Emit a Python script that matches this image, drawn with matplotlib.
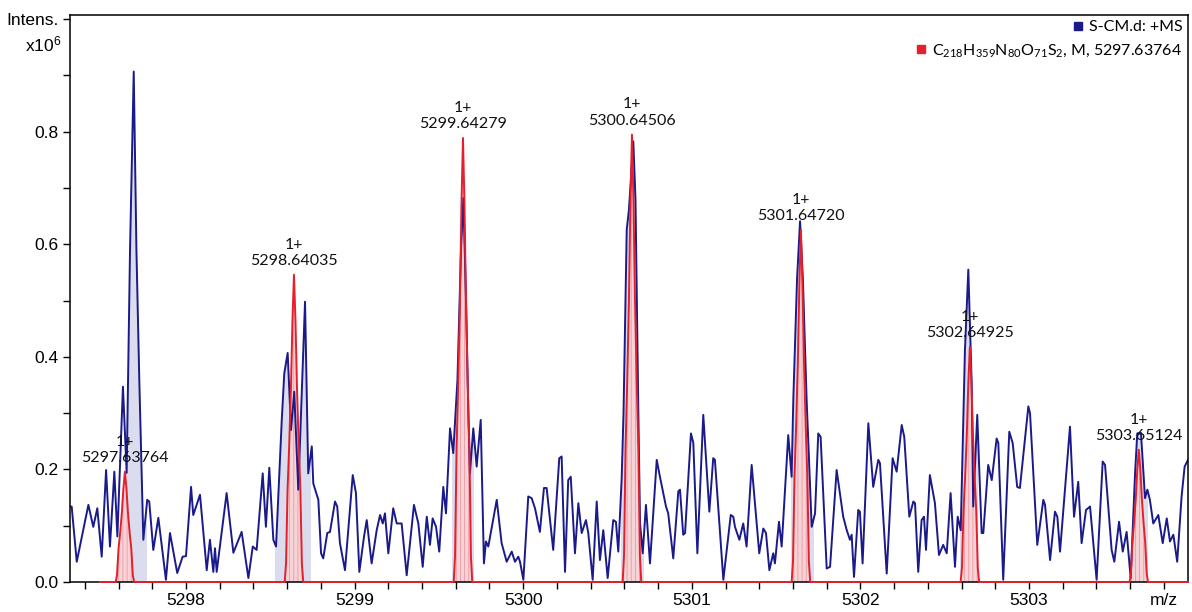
import numpy as np
import matplotlib
matplotlib.use('Agg')
import matplotlib.pyplot as plt
from matplotlib.lines import Line2D
from matplotlib.patches import Rectangle
from matplotlib.ticker import MultipleLocator

mz = [5297.310, 5297.322, 5297.352, 5297.421, 5297.450, 5297.474, 5297.500, 5297.526, 5297.549,
      5297.575, 5297.593, 5297.626, 5297.648, 5297.668, 5297.690, 5297.706, 5297.723, 5297.747,
      5297.770, 5297.782, 5297.806, 5297.836, 5297.881, 5297.905, 5297.948, 5297.980, 5298.000,
      5298.030, 5298.043, 5298.083, 5298.123, 5298.142, 5298.162, 5298.172, 5298.182, 5298.241,
      5298.281, 5298.330, 5298.370, 5298.396, 5298.419, 5298.455, 5298.474, 5298.494, 5298.518,
      5298.534, 5298.568, 5298.583, 5298.603, 5298.623, 5298.642, 5298.666, 5298.706, 5298.725,
      5298.746, 5298.755, 5298.785, 5298.801, 5298.814, 5298.838, 5298.854, 5298.884, 5298.897,
      5298.913, 5298.943, 5298.989, 5299.008, 5299.028, 5299.056, 5299.072, 5299.101, 5299.131,
      5299.151, 5299.167, 5299.180, 5299.200, 5299.229, 5299.250, 5299.279, 5299.309, 5299.352,
      5299.378, 5299.404, 5299.428, 5299.447, 5299.463, 5299.483, 5299.502, 5299.526, 5299.542,
      5299.566, 5299.585, 5299.610, 5299.631, 5299.645, 5299.661, 5299.675, 5299.684, 5299.704,
      5299.724, 5299.748, 5299.767, 5299.779, 5299.793, 5299.843, 5299.872, 5299.902, 5299.932,
      5299.951, 5299.971, 5299.981, 5300.001, 5300.030, 5300.050, 5300.070, 5300.099, 5300.123,
      5300.139, 5300.178, 5300.214, 5300.228, 5300.248, 5300.267, 5300.282, 5300.307, 5300.327,
      5300.347, 5300.372, 5300.386, 5300.412, 5300.436, 5300.455, 5300.475, 5300.501, 5300.534,
      5300.550, 5300.564, 5300.584, 5300.595, 5300.614, 5300.627, 5300.653, 5300.666, 5300.683,
      5300.693, 5300.709, 5300.728, 5300.752, 5300.792, 5300.811, 5300.847, 5300.860, 5300.890,
      5300.920, 5300.930, 5300.949, 5300.960, 5300.995, 5301.009, 5301.033, 5301.068, 5301.104,
      5301.127, 5301.137, 5301.187, 5301.231, 5301.246, 5301.256, 5301.282, 5301.305, 5301.325,
      5301.355, 5301.400, 5301.424, 5301.440, 5301.460, 5301.483, 5301.493, 5301.517, 5301.533,
      5301.572, 5301.592, 5301.602, 5301.624, 5301.642, 5301.659, 5301.681, 5301.711, 5301.731,
      5301.750, 5301.764, 5301.800, 5301.820, 5301.859, 5301.898, 5301.919, 5301.938, 5301.948,
      5301.962, 5301.987, 5301.997, 5302.013, 5302.047, 5302.076, 5302.106, 5302.116, 5302.156,
      5302.191, 5302.215, 5302.245, 5302.260, 5302.290, 5302.314, 5302.324, 5302.343, 5302.363,
      5302.377, 5302.389, 5302.412, 5302.442, 5302.466, 5302.491, 5302.512, 5302.535, 5302.561,
      5302.577, 5302.595, 5302.620, 5302.640, 5302.660, 5302.669, 5302.693, 5302.719, 5302.729,
      5302.758, 5302.779, 5302.808, 5302.818, 5302.847, 5302.883, 5302.903, 5302.930, 5302.946,
      5302.996, 5303.006, 5303.049, 5303.085, 5303.095, 5303.125, 5303.154, 5303.168, 5303.184,
      5303.243, 5303.267, 5303.292, 5303.312, 5303.338, 5303.362, 5303.401, 5303.437, 5303.451,
      5303.490, 5303.506, 5303.534, 5303.556, 5303.579, 5303.603, 5303.629, 5303.642, 5303.664,
      5303.688, 5303.702, 5303.717, 5303.737, 5303.767, 5303.793, 5303.817, 5303.836, 5303.856,
      5303.879, 5303.905, 5303.923, 5303.943]
intens = [0.134, 0.134, 0.036, 0.137, 0.098, 0.131, 0.045, 0.199, 0.063,
          0.196, 0.081, 0.347, 0.194, 0.590, 0.907, 0.590, 0.359, 0.075,
          0.146, 0.143, 0.057, 0.114, 0.004, 0.087, 0.016, 0.045, 0.046,
          0.169, 0.119, 0.155, 0.021, 0.075, 0.018, 0.060, 0.018, 0.158,
          0.052, 0.089, 0.007, 0.063, 0.057, 0.193, 0.098, 0.203, 0.075,
          0.063, 0.288, 0.371, 0.407, 0.270, 0.338, 0.164, 0.498, 0.193,
          0.241, 0.175, 0.146, 0.051, 0.042, 0.087, 0.089, 0.143, 0.134,
          0.069, 0.021, 0.190, 0.158, 0.018, 0.081, 0.110, 0.033, 0.092,
          0.119, 0.104, 0.122, 0.051, 0.131, 0.104, 0.104, 0.012, 0.137,
          0.104, 0.027, 0.116, 0.066, 0.113, 0.098, 0.054, 0.169, 0.122,
          0.273, 0.229, 0.359, 0.590, 0.682, 0.501, 0.295, 0.193, 0.273,
          0.205, 0.288, 0.033, 0.072, 0.063, 0.146, 0.069, 0.036, 0.054,
          0.036, 0.045, 0.036, 0.004, 0.152, 0.149, 0.131, 0.089, 0.167,
          0.167, 0.057, 0.220, 0.223, 0.018, 0.181, 0.187, 0.051, 0.140,
          0.087, 0.110, 0.087, 0.004, 0.143, 0.039, 0.092, 0.007, 0.110,
          0.107, 0.054, 0.184, 0.300, 0.626, 0.661, 0.783, 0.679, 0.300,
          0.104, 0.051, 0.137, 0.033, 0.217, 0.187, 0.134, 0.122, 0.042,
          0.161, 0.164, 0.084, 0.087, 0.264, 0.247, 0.051, 0.297, 0.125,
          0.220, 0.217, 0.004, 0.119, 0.116, 0.098, 0.075, 0.104, 0.063,
          0.208, 0.051, 0.095, 0.087, 0.021, 0.051, 0.033, 0.107, 0.063,
          0.261, 0.187, 0.324, 0.537, 0.641, 0.537, 0.324, 0.098, 0.122,
          0.264, 0.258, 0.024, 0.027, 0.199, 0.116, 0.092, 0.075, 0.084,
          0.009, 0.128, 0.125, 0.033, 0.282, 0.169, 0.217, 0.211, 0.015,
          0.220, 0.196, 0.279, 0.258, 0.116, 0.143, 0.140, 0.018, 0.110,
          0.116, 0.057, 0.190, 0.140, 0.048, 0.066, 0.051, 0.158, 0.027,
          0.116, 0.092, 0.412, 0.555, 0.353, 0.134, 0.297, 0.087, 0.087,
          0.208, 0.181, 0.255, 0.247, 0.004, 0.267, 0.247, 0.169, 0.167,
          0.312, 0.300, 0.066, 0.146, 0.137, 0.039, 0.125, 0.116, 0.054,
          0.276, 0.116, 0.178, 0.069, 0.128, 0.134, 0.004, 0.214, 0.208,
          0.057, 0.036, 0.107, 0.054, 0.089, 0.007, 0.193, 0.264, 0.265,
          0.149, 0.164, 0.146, 0.104, 0.119, 0.069, 0.113, 0.072, 0.084,
          0.036, 0.152, 0.205, 0.217]

# shaded m/z windows under the measured trace
shade_lo = [5297.644, 5298.528, 5299.580, 5300.580, 5301.590, 5302.590, 5303.600]
shade_hi = [5297.763, 5298.735, 5299.700, 5300.710, 5301.720, 5302.690, 5303.700]

# simulated isotope pattern C218H359N80O71S2
iso_mz = [5297.63764, 5298.64035, 5299.64279, 5300.64506, 5301.64720, 5302.64925, 5303.65124]
iso_height = [0.196, 0.546, 0.789, 0.795, 0.626, 0.418, 0.235]
iso_labels = ['5297.63764', '5298.64035', '5299.64279', '5300.64506',
              '5301.64720', '5302.64925', '5303.65124']
# one peak profile (offset in m/z, fraction of height)
prof_dx = [-0.055, -0.047, -0.038, -0.028, -0.018, -0.009, 0.0, 0.009, 0.018, 0.028, 0.038, 0.047, 0.055]
prof_y = [0.0, 0.06, 0.30, 0.45, 0.63, 0.85, 1.0, 0.85, 0.63, 0.45, 0.30, 0.06, 0.0]
sim_start, sim_end = 5297.49, 5303.943

x_ticks = [5298, 5299, 5300, 5301, 5302, 5303, 5303.8]
x_ticklabels = ['5298', '5299', '5300', '5301', '5302', '5303', 'm/z']
y_ticks = [0.0, 0.2, 0.4, 0.6, 0.8, 1.0]
y_ticklabels = ['0.0', '0.2', '0.4', '0.6', '0.8', 'Intens.']

BLUE = '#1a1a8a'
LAV = '#dcdcef'
RED = '#e3202b'
PINK = '#f6d3d7'

mz = np.array(mz)
intens = np.array(intens)

sim_x = [sim_start]
sim_y = [0.0]
for c, h in zip(iso_mz, iso_height):
    sim_x += [c + d for d in prof_dx]
    sim_y += [h * p for p in prof_y]
sim_x.append(sim_end)
sim_y.append(0.0)

fig = plt.figure(figsize=(11.92, 6.12), dpi=100)
ax = fig.add_axes([70 / 1192, 30 / 612, 1118 / 1192, 567.3 / 612])

# lavender areas under the measured trace
for lo, hi in zip(shade_lo, shade_hi):
    poly = ax.fill_between(mz, intens, 0, color=LAV, linewidth=0, zorder=1)
    poly.set_clip_path(Rectangle((lo, 0), hi - lo, 1.0, transform=ax.transData))

plt.rcParams['hatch.linewidth'] = 0.6
ax.fill_between(sim_x, sim_y, 0, facecolor=PINK, edgecolor='#ec9aa3', hatch='||||',
                linewidth=0, zorder=1.5)
ax.plot(mz, intens, color=BLUE, lw=1.4, zorder=2)
ax.plot(sim_x, sim_y, color=RED, lw=1.4, zorder=3, clip_on=False)

for c, h, lab in zip(iso_mz, iso_height, iso_labels):
    ax.annotate('1+\n' + lab, (c, h), xytext=(0, 5), textcoords='offset points',
                ha='center', va='bottom', fontsize=11.5, family='Lato',
                linespacing=1.2, color='#111111', zorder=5)

ax.set_xlim(5297.312, 5303.943)
ax.set_ylim(0, 1.008)
ax.set_xticks(x_ticks)
ax.set_xticklabels(x_ticklabels)
ax.set_yticks(y_ticks)
ax.set_yticklabels(y_ticklabels)
ax.xaxis.set_minor_locator(MultipleLocator(0.2))
ax.yaxis.set_minor_locator(MultipleLocator(0.1))
ax.tick_params(which='both', direction='out', length=5, width=1.0, labelsize=12.5,
               top=False, right=False)
for lab in ax.get_xticklabels() + ax.get_yticklabels():
    lab.set_family('Liberation Sans')
ax.tick_params(axis='x', pad=3)
ax.tick_params(axis='y', pad=3)
for s in ax.spines.values():
    s.set_linewidth(1.1)

fig.text(61 / 1192, 1 - 44 / 612, r'$\mathregular{x10^{6}}$', ha='right', va='center',
         fontsize=12.5, family='Liberation Sans')

# legend, one entry per box so the entries sit right aligned
h1 = Line2D([], [], marker='s', ls='none', color=BLUE, markersize=5.5)
h2 = Line2D([], [], marker='s', ls='none', color=RED, markersize=5.5)
lab2 = r'C$\mathregular{_{218}}$H$\mathregular{_{359}}$N$\mathregular{_{80}}$O$\mathregular{_{71}}$S$\mathregular{_{2}}$, M, 5297.63764'
leg1 = ax.legend([h1], ['S-CM.d: +MS'], loc='upper right', bbox_to_anchor=(1.0, 1.0),
                 frameon=False, handlelength=0.6, handletextpad=0.4, borderpad=0.25,
                 borderaxespad=0.1, prop={'family': 'Lato', 'size': 11.5})
ax.add_artist(leg1)
ax.legend([h2], [lab2], loc='upper right', bbox_to_anchor=(1.0, 0.962),
          frameon=False, handlelength=0.6, handletextpad=0.4, borderpad=0.25,
          borderaxespad=0.1, prop={'family': 'Lato', 'size': 11.5})

fig.savefig('out.png', dpi=100)
